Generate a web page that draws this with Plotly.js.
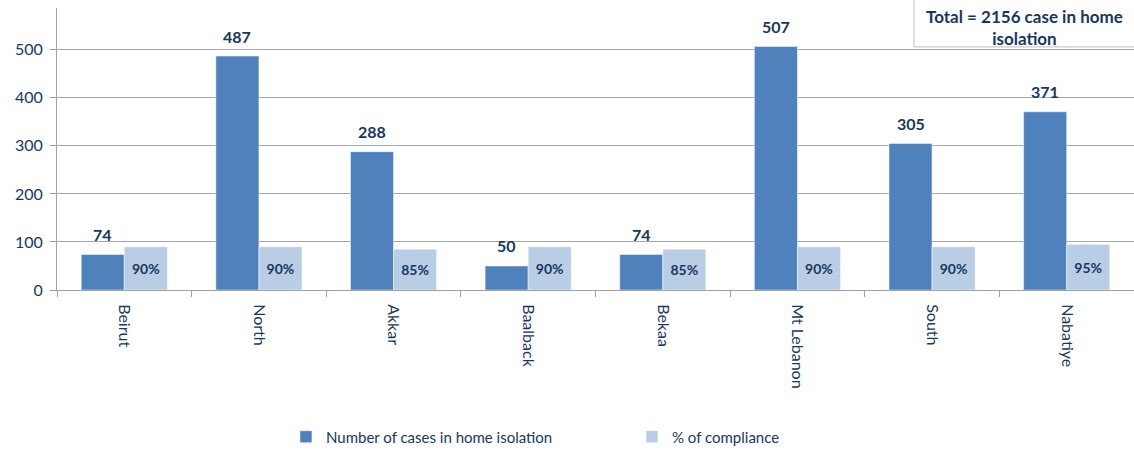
<!DOCTYPE html>
<html>
<head>
<meta charset="utf-8">
<script src="https://cdn.plot.ly/plotly-3.0.1.min.js"></script>
<style>html,body{margin:0;padding:0;background:#fff;}#chart{width:1134px;height:450px;}</style>
</head>
<body>
<div id="chart"></div>
<script>
const regions = ["Beirut", "North", "Akkar", "Baalback", "Bekaa", "Mt Lebanon", "South", "Nabatiye"];
const casesHomeIsolation = [74, 487, 288, 50, 74, 507, 305, 371];
const compliancePct = [90, 90, 85, 90, 85, 90, 90, 95];
const yTicks = [0, 100, 200, 300, 400, 500];
const totalNote = "Total = 2156 case in home<br>isolation";

const navy = "#17375E";
const font = "Lato, 'Open Sans', sans-serif";

const traces = [
  {
    type: "bar",
    name: "Number of cases in home isolation",
    x: regions,
    y: casesHomeIsolation,
    marker: {color: "#4F81BD", line: {color: "#FFFFFF", width: 0.5}},
    hoverinfo: "skip"
  },
  {
    type: "bar",
    name: "% of compliance",
    x: regions,
    y: compliancePct,
    marker: {color: "#B9CDE5", line: {color: "#FFFFFF", width: 0.5}},
    text: compliancePct.map(v => v + "%"),
    textposition: "inside",
    insidetextanchor: "middle",
    constraintext: "none",
    textangle: 0,
    textfont: {family: font, size: 14, color: navy, weight: "bold"},
    hoverinfo: "skip"
  }
];

const caseLabels = regions.map((r, i) => ({
  xref: "x", yref: "y",
  x: r, y: casesHomeIsolation[i],
  xshift: -21.5, yshift: 20,
  xanchor: "center", yanchor: "middle",
  text: "<b>" + casesHomeIsolation[i] + "</b>",
  showarrow: false,
  font: {family: font, size: 16, color: navy}
}));

const layout = {
  width: 1134,
  height: 450,
  margin: {l: 57, r: 0, t: 8, b: 160, autoexpand: false},
  paper_bgcolor: "#FFFFFF",
  plot_bgcolor: "#FFFFFF",
  barmode: "group",
  bargap: 0.36,
  bargroupgap: 0,
  showlegend: true,
  legend: {
    orientation: "h",
    x: 0.2126, xanchor: "left",
    yref: "container",
    y: 0.029, yanchor: "middle",
    font: {family: font, size: 15, color: navy},
    entrywidth: 301,
    entrywidthmode: "pixels",
    itemclick: false
  },
  xaxis: {
    type: "category",
    automargin: false,
    tickangle: 90,
    tickfont: {family: font, size: 16, color: navy},
    ticklabelstandoff: 10,
    showline: true,
    linecolor: "#A0A0A0",
    linewidth: 1,
    ticks: "outside",
    tickson: "boundaries",
    ticklen: 6,
    tickcolor: "#A0A0A0",
    showgrid: false,
    range: [-0.5, 7.5],
    fixedrange: true
  },
  yaxis: {
    automargin: false,
    range: [0, 587],
    tickvals: yTicks,
    ticktext: yTicks.map(String),
    tickfont: {family: font, size: 16, color: navy},
    ticklabelstandoff: 4,
    showgrid: true,
    gridcolor: "#A6A6A6",
    gridwidth: 1,
    showline: true,
    linecolor: "#A0A0A0",
    ticks: "outside",
    ticklen: 6,
    tickcolor: "#A0A0A0",
    zeroline: false,
    fixedrange: true
  },
  shapes: [
    {type: "line", xref: "paper", yref: "paper", x0: 0.7957, x1: 0.7957, y0: 0.862, y1: 1.03, line: {color: "#BFBFBF", width: 1}},
    {type: "line", xref: "paper", yref: "paper", x0: 0.7957, x1: 1.0, y0: 0.862, y1: 0.862, line: {color: "#BFBFBF", width: 1}}
  ],
  annotations: caseLabels.concat([
    {
      xref: "paper", yref: "paper",
      x: 0.8985, y: 0.93, xanchor: "center", yanchor: "middle",
      text: "<b>" + totalNote + "</b>",
      showarrow: false,
      align: "center",
      font: {family: font, size: 17, color: navy}
    }
  ])
};

Plotly.newPlot("chart", traces, layout, {displayModeBar: false, staticPlot: true});
</script>
</body>
</html>
